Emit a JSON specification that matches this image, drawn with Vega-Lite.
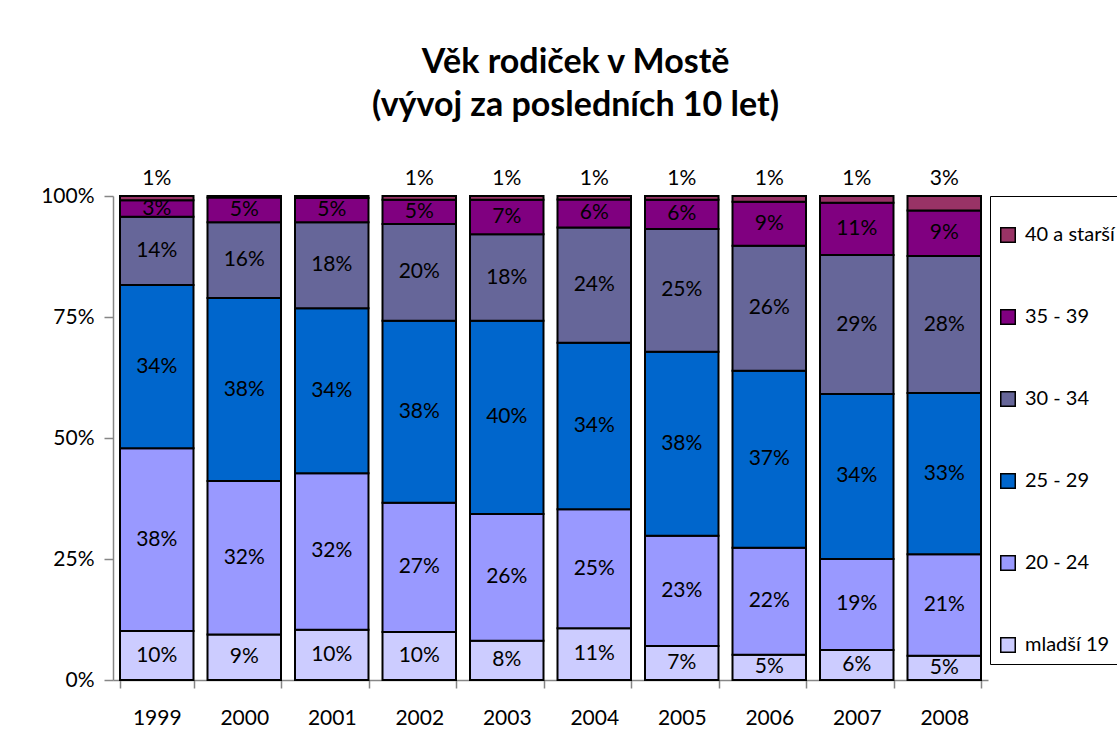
{
  "$schema": "https://vega.github.io/schema/vega-lite/v6.json",
  "autosize": "none",
  "width": 875,
  "height": 484,
  "padding": {"left": 113, "top": 196, "right": 129, "bottom": 71},
  "background": "white",
  "title": {
    "text": ["Věk rodiček v Mostě", "(vývoj za posledních 10 let)"],
    "font": "Lato",
    "fontSize": 34,
    "fontWeight": "bold",
    "color": "black",
    "lineHeight": 43,
    "anchor": "middle",
    "dx": 25,
    "offset": 45
  },
  "config": {
    "view": {"stroke": null},
    "font": "Lato"
  },
  "data": {
    "values": [
      {"year": "1999", "group": "mladší 19", "o": 1, "value": 0.101},
      {"year": "1999", "group": "20 - 24", "o": 2, "value": 0.378},
      {"year": "1999", "group": "25 - 29", "o": 3, "value": 0.337},
      {"year": "1999", "group": "30 - 34", "o": 4, "value": 0.141},
      {"year": "1999", "group": "35 - 39", "o": 5, "value": 0.034},
      {"year": "1999", "group": "40 a starší", "o": 6, "value": 0.009},
      {"year": "2000", "group": "mladší 19", "o": 1, "value": 0.094},
      {"year": "2000", "group": "20 - 24", "o": 2, "value": 0.317},
      {"year": "2000", "group": "25 - 29", "o": 3, "value": 0.378},
      {"year": "2000", "group": "30 - 34", "o": 4, "value": 0.157},
      {"year": "2000", "group": "35 - 39", "o": 5, "value": 0.051},
      {"year": "2000", "group": "40 a starší", "o": 6, "value": 0.003},
      {"year": "2001", "group": "mladší 19", "o": 1, "value": 0.104},
      {"year": "2001", "group": "20 - 24", "o": 2, "value": 0.323},
      {"year": "2001", "group": "25 - 29", "o": 3, "value": 0.341},
      {"year": "2001", "group": "30 - 34", "o": 4, "value": 0.178},
      {"year": "2001", "group": "35 - 39", "o": 5, "value": 0.050},
      {"year": "2001", "group": "40 a starší", "o": 6, "value": 0.004},
      {"year": "2002", "group": "mladší 19", "o": 1, "value": 0.099},
      {"year": "2002", "group": "20 - 24", "o": 2, "value": 0.267},
      {"year": "2002", "group": "25 - 29", "o": 3, "value": 0.376},
      {"year": "2002", "group": "30 - 34", "o": 4, "value": 0.200},
      {"year": "2002", "group": "35 - 39", "o": 5, "value": 0.050},
      {"year": "2002", "group": "40 a starší", "o": 6, "value": 0.008},
      {"year": "2003", "group": "mladší 19", "o": 1, "value": 0.081},
      {"year": "2003", "group": "20 - 24", "o": 2, "value": 0.262},
      {"year": "2003", "group": "25 - 29", "o": 3, "value": 0.399},
      {"year": "2003", "group": "30 - 34", "o": 4, "value": 0.179},
      {"year": "2003", "group": "35 - 39", "o": 5, "value": 0.071},
      {"year": "2003", "group": "40 a starší", "o": 6, "value": 0.008},
      {"year": "2004", "group": "mladší 19", "o": 1, "value": 0.107},
      {"year": "2004", "group": "20 - 24", "o": 2, "value": 0.246},
      {"year": "2004", "group": "25 - 29", "o": 3, "value": 0.344},
      {"year": "2004", "group": "30 - 34", "o": 4, "value": 0.238},
      {"year": "2004", "group": "35 - 39", "o": 5, "value": 0.058},
      {"year": "2004", "group": "40 a starší", "o": 6, "value": 0.007},
      {"year": "2005", "group": "mladší 19", "o": 1, "value": 0.070},
      {"year": "2005", "group": "20 - 24", "o": 2, "value": 0.228},
      {"year": "2005", "group": "25 - 29", "o": 3, "value": 0.380},
      {"year": "2005", "group": "30 - 34", "o": 4, "value": 0.254},
      {"year": "2005", "group": "35 - 39", "o": 5, "value": 0.060},
      {"year": "2005", "group": "40 a starší", "o": 6, "value": 0.008},
      {"year": "2006", "group": "mladší 19", "o": 1, "value": 0.052},
      {"year": "2006", "group": "20 - 24", "o": 2, "value": 0.221},
      {"year": "2006", "group": "25 - 29", "o": 3, "value": 0.366},
      {"year": "2006", "group": "30 - 34", "o": 4, "value": 0.258},
      {"year": "2006", "group": "35 - 39", "o": 5, "value": 0.091},
      {"year": "2006", "group": "40 a starší", "o": 6, "value": 0.012},
      {"year": "2007", "group": "mladší 19", "o": 1, "value": 0.062},
      {"year": "2007", "group": "20 - 24", "o": 2, "value": 0.188},
      {"year": "2007", "group": "25 - 29", "o": 3, "value": 0.341},
      {"year": "2007", "group": "30 - 34", "o": 4, "value": 0.287},
      {"year": "2007", "group": "35 - 39", "o": 5, "value": 0.108},
      {"year": "2007", "group": "40 a starší", "o": 6, "value": 0.014},
      {"year": "2008", "group": "mladší 19", "o": 1, "value": 0.050},
      {"year": "2008", "group": "20 - 24", "o": 2, "value": 0.210},
      {"year": "2008", "group": "25 - 29", "o": 3, "value": 0.333},
      {"year": "2008", "group": "30 - 34", "o": 4, "value": 0.283},
      {"year": "2008", "group": "35 - 39", "o": 5, "value": 0.094},
      {"year": "2008", "group": "40 a starší", "o": 6, "value": 0.030}
    ]
  },
  "transform": [
    {"stack": "value", "groupby": ["year"], "sort": [{"field": "o", "order": "ascending"}], "offset": "normalize", "as": ["v0", "v1"]},
    {"calculate": "(datum.v0 + datum.v1) / 2", "as": "mid"}
  ],
  "encoding": {
    "x": {
      "field": "year",
      "type": "nominal",
      "scale": {"paddingInner": 0.16, "paddingOuter": 0.08},
      "axis": {
        "title": null,
        "labelAngle": 0,
        "labelFont": "Lato",
        "labelFontSize": 21,
        "labelColor": "black",
        "labelPadding": 19,
        "domainColor": "#868686",
        "domainWidth": 1.5,
        "tickColor": "#868686",
        "tickWidth": 1.5,
        "tickSize": 8,
        "tickBand": "extent",
        "grid": false
      }
    }
  },
  "layer": [
    {
      "mark": {"type": "bar", "stroke": "black", "strokeWidth": 2},
      "encoding": {
        "y": {
          "field": "v0",
          "type": "quantitative",
          "scale": {"domain": [0, 1]},
          "axis": {
            "title": null,
            "values": [0, 0.25, 0.5, 0.75, 1],
            "format": ".0%",
            "labelFont": "Lato",
            "labelFontSize": 21,
            "labelColor": "black",
            "labelPadding": 10,
            "domainColor": "#868686",
            "domainWidth": 1.5,
            "tickColor": "#868686",
            "tickWidth": 1.5,
            "tickSize": 9,
            "grid": false
          }
        },
        "y2": {"field": "v1"},
        "color": {
          "field": "group",
          "type": "nominal",
          "scale": {
            "domain": ["40 a starší", "35 - 39", "30 - 34", "25 - 29", "20 - 24", "mladší 19"],
            "range": ["#993366", "#800080", "#666699", "#0066CC", "#9999FF", "#CCCCFF"]
          },
          "legend": {
            "title": " ",
            "titleFontSize": 10,
            "titlePadding": 11,
            "orient": "right",
            "offset": 2,
            "padding": 8,
            "strokeColor": "black",
            "symbolType": "square",
            "symbolSize": 210,
            "symbolStrokeColor": "black",
            "symbolStrokeWidth": 1.5,
            "symbolOpacity": 1,
            "labelFont": "Lato",
            "labelFontSize": 20,
            "labelColor": "black",
            "labelOffset": 7,
            "rowPadding": 60,
            "labelLimit": 300
          }
        }
      }
    },
    {
      "transform": [{"filter": "datum.group != '40 a starší'"}],
      "mark": {"type": "text", "font": "Lato", "fontSize": 21, "color": "black", "baseline": "middle"},
      "encoding": {
        "y": {"field": "mid", "type": "quantitative"},
        "text": {"field": "value", "type": "quantitative", "format": ".0%"}
      }
    },
    {
      "transform": [{"filter": "datum.group == '40 a starší' && datum.value >= 0.005"}],
      "mark": {"type": "text", "font": "Lato", "fontSize": 21, "color": "black", "baseline": "middle", "dy": -17},
      "encoding": {
        "y": {"datum": 1, "type": "quantitative"},
        "text": {"field": "value", "type": "quantitative", "format": ".0%"}
      }
    }
  ]
}
